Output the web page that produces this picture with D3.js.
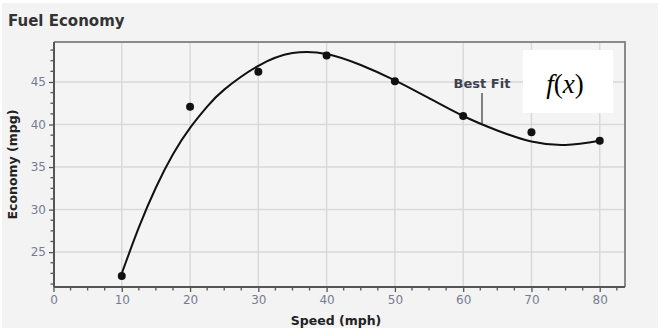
<!DOCTYPE html>
<html>
<head>
<meta charset="utf-8">
<script src="https://cdn.jsdelivr.net/npm/d3@7"></script>
<style>
  body { margin: 0; background: #ffffff; }
  svg { display: block; font-family: "DejaVu Sans", sans-serif; }
</style>
</head>
<body>
<svg id="chart"></svg>
<script>
// measured points
const speeds = [10, 20, 30, 40, 50, 60, 70, 80];
const economy = [22.2, 42.1, 46.2, 48.1, 45.1, 41.0, 39.1, 38.1];

// best fit curve
const fitSpeeds = [10, 12.5, 15, 17.5, 20, 22.5, 25, 30, 35, 40, 45, 50, 55, 60, 65, 70, 75, 80];
const fitEconomy = [22.5, 27.9, 32.6, 36.5, 39.6, 42.1, 44.1, 46.9, 48.4, 48.3, 47.0, 45.2, 43.1, 41.0, 39.3, 38.0, 37.6, 38.1];

const xTicks = [0, 10, 20, 30, 40, 50, 60, 70, 80];
const yTicks = [25, 30, 35, 40, 45];

const W = 660, H = 331;
const svg = d3.select("#chart").attr("width", W).attr("height", H);

svg.append("rect").attr("x", 2).attr("y", 3).attr("width", 656).attr("height", 325)
  .attr("fill", "#f3f3f3");

const pLeft = 54, pRight = 625, pTop = 42, pBottom = 287;
const x = d3.scaleLinear().domain([0, 83.7]).range([pLeft - 0.5, pRight]);
const y = d3.scaleLinear().domain([20.9, 49.7]).range([pBottom, pTop]);

// plot background
svg.append("rect").attr("x", pLeft).attr("y", pTop)
  .attr("width", pRight - pLeft).attr("height", pBottom - pTop)
  .attr("fill", "#f4f4f4");

// grid
const grid = svg.append("g").attr("stroke", "#d9d9d9").attr("stroke-width", 1.5);
grid.selectAll(".gx").data(xTicks.filter(d => d > 0)).join("line")
  .attr("x1", d => x(d)).attr("x2", d => x(d)).attr("y1", pTop).attr("y2", pBottom);
grid.selectAll(".gy").data(yTicks).join("line")
  .attr("x1", pLeft).attr("x2", pRight).attr("y1", d => y(d)).attr("y2", d => y(d));

// top/right border
svg.append("path")
  .attr("d", `M${pLeft},${pTop}H${pRight}V${pBottom}`)
  .attr("fill", "none").attr("stroke", "#8a8a8a").attr("stroke-width", 2);

// axes
const xAxis = d3.axisBottom(x).tickValues(xTicks).tickSize(5).tickPadding(3);
const gx = svg.append("g").attr("transform", `translate(0,${pBottom})`).call(xAxis);
const yAxis = d3.axisLeft(y).tickValues(yTicks).tickSize(5).tickPadding(3);
const gy = svg.append("g").attr("transform", `translate(${pLeft},0)`).call(yAxis);

// minor ticks
const xMinor = d3.range(0, 84, 2.5).filter(d => d % 10 !== 0);
gx.selectAll(".minor").data(xMinor).join("line").attr("class", "minor")
  .attr("x1", d => x(d)).attr("x2", d => x(d)).attr("y1", 0).attr("y2", 3.5)
  .attr("stroke", "#555").attr("stroke-width", 1.3);
const yMinor = d3.range(21.25, 49.7, 1.25).filter(d => d % 5 !== 0);
gy.selectAll(".minor").data(yMinor).join("line").attr("class", "minor")
  .attr("x1", 0).attr("x2", -3.5).attr("y1", d => y(d)).attr("y2", d => y(d))
  .attr("stroke", "#555").attr("stroke-width", 1.3);

[gx, gy].forEach(g => {
  g.select(".domain").attr("stroke", "#555").attr("stroke-width", 2);
  g.selectAll(".tick line").attr("stroke", "#555").attr("stroke-width", 1.3);
  g.selectAll(".tick text").attr("fill", "#767d92")
    .style("font-size", "12px").style("font-family", "'DejaVu Sans', sans-serif");
});
gx.select(".domain").attr("d", `M${pLeft},0H${pRight}`);
gy.select(".domain").attr("d", `M0,${pBottom}V${pTop}`);

// fit line
const line = d3.line().x((d, i) => x(fitSpeeds[i])).y(d => y(d)).curve(d3.curveNatural);
svg.append("path").datum(fitEconomy).attr("d", line)
  .attr("fill", "none").attr("stroke", "#111").attr("stroke-width", 2);

// points
svg.selectAll(".pt").data(speeds).join("circle")
  .attr("cx", d => x(d)).attr("cy", (d, i) => y(economy[i])).attr("r", 4)
  .attr("fill", "#111");

// annotation
svg.append("line").attr("x1", 482).attr("x2", 482).attr("y1", 93).attr("y2", y(40.1))
  .attr("stroke", "#333").attr("stroke-width", 1.2);
svg.append("text").attr("x", 482).attr("y", 88).attr("text-anchor", "middle")
  .attr("fill", "#3c4150").style("font-size", "13px").style("font-weight", "bold")
  .text("Best Fit");

// f(x) box
svg.append("rect").attr("x", 523).attr("y", 50).attr("width", 90).attr("height", 63)
  .attr("fill", "#ffffff");
const fx = svg.append("text").attr("x", 565).attr("y", 93).attr("text-anchor", "middle")
  .style("font-family", "'Liberation Serif', serif").style("font-size", "27px").attr("fill", "#000");
fx.append("tspan").style("font-style", "italic").text("f");
fx.append("tspan").text("(");
fx.append("tspan").style("font-style", "italic").text("x");
fx.append("tspan").text(")");

// titles
svg.append("text").attr("x", 8).attr("y", 26).attr("fill", "#333")
  .style("font-size", "15px").style("font-weight", "bold").text("Fuel Economy");
svg.append("text").attr("x", 336).attr("y", 325).attr("text-anchor", "middle")
  .attr("fill", "#222").style("font-size", "12.5px").style("font-weight", "bold").text("Speed (mph)");
svg.append("text").attr("transform", `translate(17,${(pTop + pBottom) / 2}) rotate(-90)`)
  .attr("text-anchor", "middle").attr("fill", "#222")
  .style("font-size", "12.5px").style("font-weight", "bold").text("Economy (mpg)");
</script>
</body>
</html>
